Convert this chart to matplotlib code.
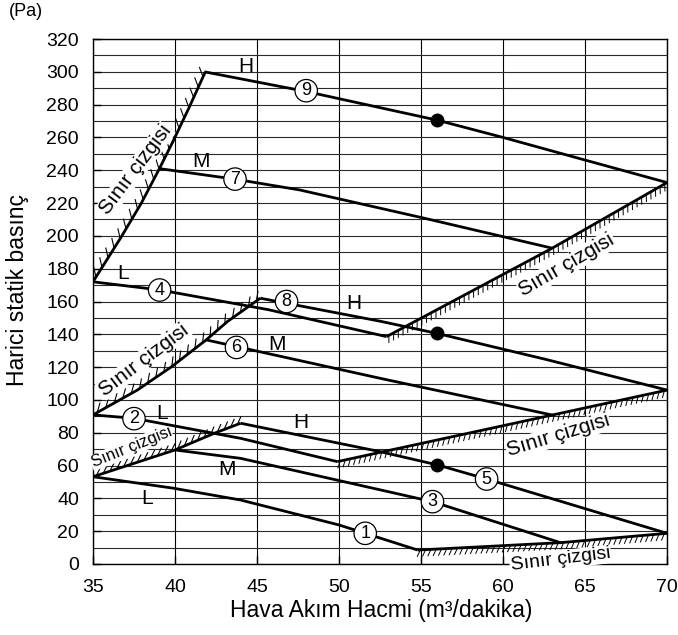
import matplotlib
matplotlib.use('Agg')
import matplotlib.pyplot as plt
import matplotlib.patheffects as pe
import numpy as np

plt.rcParams['font.family'] = ['Liberation Sans', 'DejaVu Sans']

# fan curves, x = air flow (m3/min), y = external static pressure (Pa)
l9_x = [41.8, 48.0, 56.0, 60.0, 64.9, 70.0]
l9_y = [300, 288, 270.5, 260, 246.5, 232.5]
l7_x = [39.05, 43.7, 47.6, 55.1, 63.0]
l7_y = [241, 234.5, 228, 211, 192.5]
l4_x = [35.0, 39.1, 45.7, 52.9]
l4_y = [172, 167, 155, 138.6]
l8_x = [45.2, 52.5, 56.0, 62.7, 70.0]
l8_y = [162, 148, 140.5, 124.5, 106]
l6_x = [41.9, 52.5, 63.0]
l6_y = [136.6, 113.2, 90.8]
l2_x = [35.0, 37.5, 44.0, 49.9]
l2_y = [90.9, 88.8, 76.6, 62.4]
l5_x = [44.0, 52.5, 56.0, 59.0, 70.0]
l5_y = [85.8, 68.5, 60.4, 51.8, 18.7]
l3_x = [40.0, 44.0, 55.7, 63.5]
l3_y = [69.5, 64.4, 38.0, 13.0]
l1_x = [35.0, 39.9, 44.0, 50.0, 51.6, 54.8]
l1_y = [53.2, 46.2, 39.0, 23.8, 18.7, 8.5]

# limit lines (Sınır çizgisi)
b1l_x = [35.0, 36.7, 37.95, 39.05, 39.85, 40.85, 41.85]
b1l_y = [172, 199, 220, 241, 257, 278, 300]
b1r_x = [52.9, 63.0, 70.0]
b1r_y = [138.6, 192.5, 232.5]
b2l_x = [35.0, 37.7, 39.8, 41.9, 43.2, 45.2]
b2l_y = [90.9, 106, 120.3, 136.6, 147.8, 162]
b2r_x = [49.9, 63.0, 70.0]
b2r_y = [62.4, 90.8, 106]
b3l_x = [35.0, 40.0, 42.4, 44.0]
b3l_y = [53.2, 69.5, 79.7, 85.8]
b3b_x = [54.8, 63.5, 70.0]
b3b_y = [8.5, 13.0, 18.7]

# rated points
dot_x = [56, 56, 56]
dot_y = [270.5, 140.5, 60.4]

# H / M / L tags
tag_txt = ['H', 'M', 'L', 'H', 'M', 'L', 'H', 'M', 'L']
tag_x = [44.3, 41.6, 36.85, 50.9, 46.2, 39.2, 47.7, 43.15, 38.3]
tag_y = [303, 245.5, 177, 159, 133.5, 92, 86, 57.3, 40]

# circled curve numbers
num_txt = ['9', '7', '4', '8', '6', '2', '5', '3', '1']
num_x = [48.0, 43.66, 39.06, 46.8, 43.75, 37.5, 59.0, 55.7, 51.6]
num_y = [288.5, 234.6, 167, 160, 132, 88.6, 51.8, 38, 18.7]

# "Sınır çizgisi" labels
lim_x = [37.6, 38.1, 37.34, 63.9, 63.37, 63.5]
lim_y = [240.2, 124.4, 71, 182.3, 78.2, 2.5]
lim_rot = [53, 37, 22, 30, 17, 7]
lim_size = [15, 15, 12, 15, 15, 14]

fig = plt.figure(figsize=(6.78, 6.35), dpi=100)
ax = fig.add_axes([93 / 678, 71 / 635, 574 / 678, 525 / 635])

ax.set_xlim(35, 70)
ax.set_ylim(0, 320)
ax.set_xticks(np.arange(35, 71, 5))
ax.set_yticks(np.arange(0, 321, 20))
ax.set_yticks(np.arange(0, 321, 10), minor=True)
ax.set_axisbelow(True)
ax.grid(axis='y', which='both', color='#2a2a2a', lw=0.8)
ax.grid(axis='x', which='major', color='black', lw=0.8)
ax.tick_params(axis='both', which='major', direction='in', length=6, width=1,
               labelsize=14)
ax.tick_params(axis='x', which='major', pad=11)
ax.tick_params(axis='y', which='major', pad=10)
ax.tick_params(axis='y', which='minor', length=0)
for s in ax.spines.values():
    s.set_linewidth(1)

# limit lines with hatching
left_b = [(b1l_x, b1l_y, 8, 0.9), (b2l_x, b2l_y, 7, 1.0), (b3l_x, b3l_y, 5, 1.2)]
for bx, by, sp, ln in left_b:
    ax.plot(bx, by, color='black', lw=0.8, zorder=2,
            path_effects=[pe.TickedStroke(spacing=sp, angle=45, length=ln)])
    ax.plot(bx, by, color='black', lw=2, zorder=4, solid_capstyle='butt')
for bx, by in [(b1r_x, b1r_y), (b2r_x, b2r_y), (b3b_x, b3b_y)]:
    ax.plot(bx, by, color='black', lw=0.7, zorder=2,
            path_effects=[pe.TickedStroke(spacing=3.8, angle=-118, length=1.35)])
    ax.plot(bx, by, color='black', lw=2, zorder=4, solid_capstyle='butt')

# fan curves
for cx, cy in [(l9_x, l9_y), (l7_x, l7_y), (l4_x, l4_y), (l8_x, l8_y), (l6_x, l6_y),
               (l2_x, l2_y), (l5_x, l5_y), (l3_x, l3_y), (l1_x, l1_y)]:
    ax.plot(cx, cy, color='black', lw=2, zorder=4, solid_capstyle='butt')

ax.plot(dot_x, dot_y, 'o', color='black', ms=9, zorder=6)

for t, x, y in zip(tag_txt, tag_x, tag_y):
    ax.text(x, y, t, fontsize=15, ha='center', va='center', zorder=5)

for t, x, y in zip(num_txt, num_x, num_y):
    ax.text(x, y, t, fontsize=13, ha='center', va='center', zorder=6,
            bbox=dict(boxstyle='circle,pad=0.15', fc='white', ec='black', lw=0.9))

for x, y, r, fs in zip(lim_x, lim_y, lim_rot, lim_size):
    ax.text(x, y, 'Sınır çizgisi', fontsize=fs, rotation=r, rotation_mode='anchor',
            ha='center', va='center', zorder=3,
            bbox=dict(fc='white', ec='none', pad=0.5))

fig.text(18 / 678, 1 - 290 / 635, 'Harici statik basınç', rotation=90,
         fontsize=16.5, ha='center', va='center')
fig.text(381 / 678, 1 - 610 / 635, 'Hava Akım Hacmi (m³/dakika)',
         fontsize=16.5, ha='center', va='center')
fig.text(26 / 678, 1 - 12 / 635, '(Pa)', fontsize=13, ha='center', va='center')

fig.savefig('out.png', dpi=100)
